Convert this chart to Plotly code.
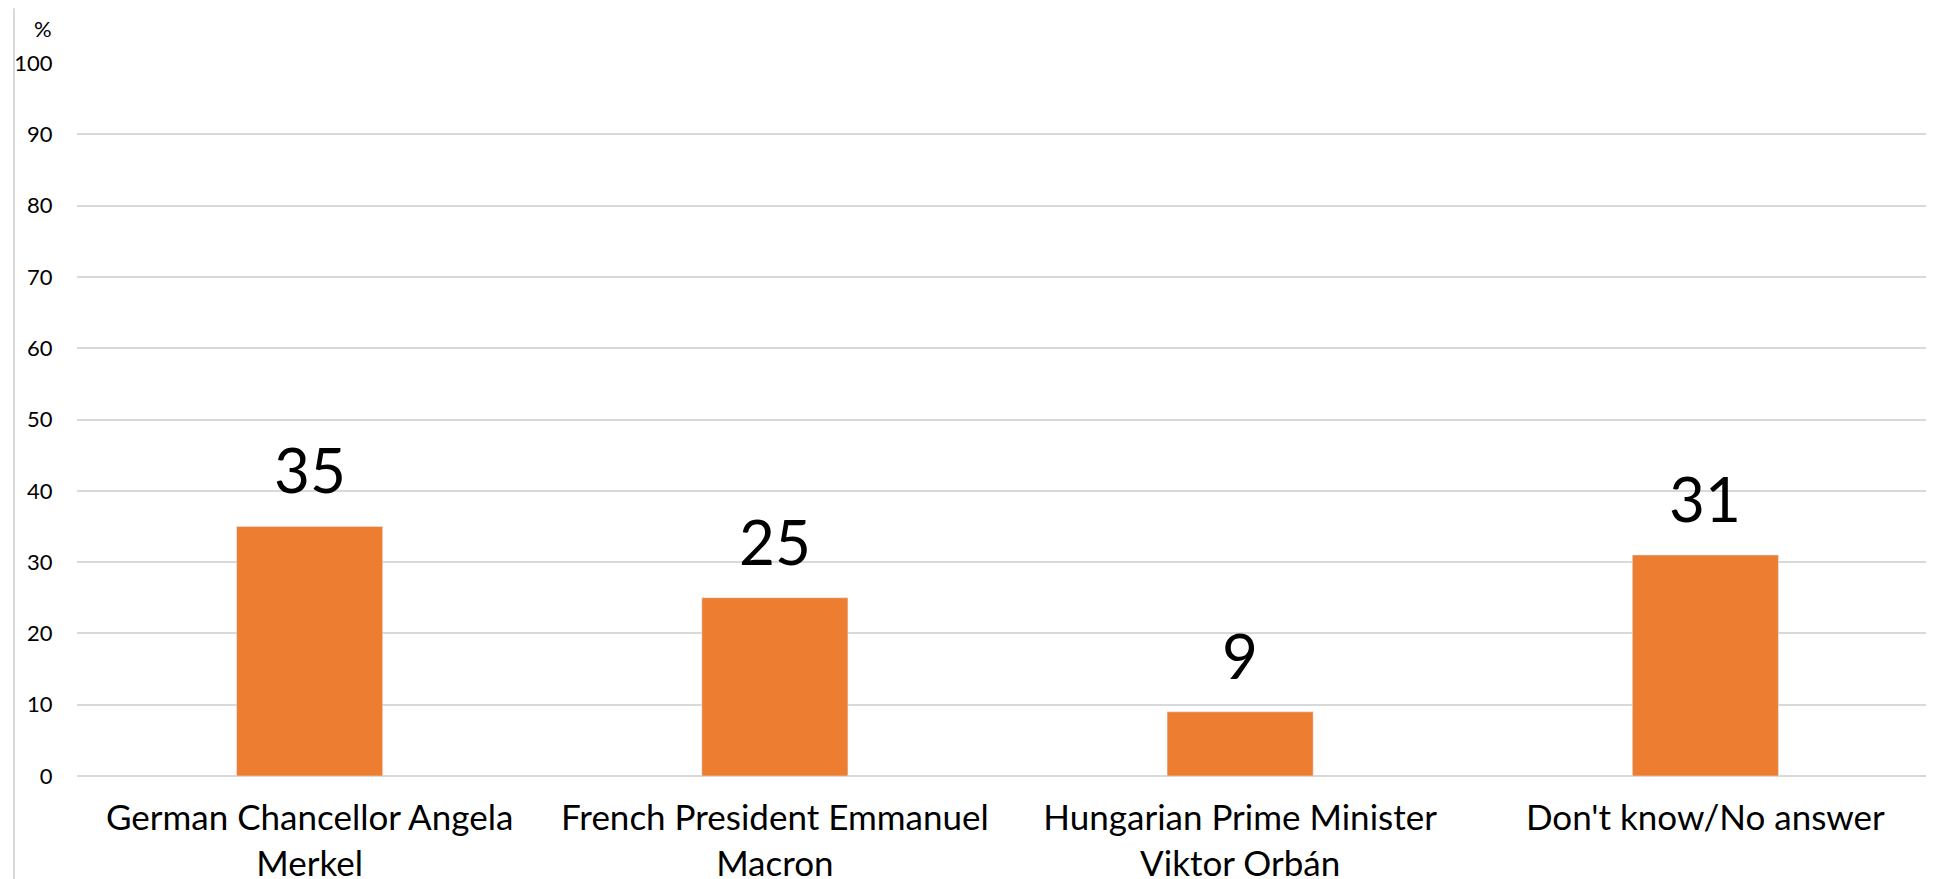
import plotly.graph_objects as go

categories = ["German Chancellor Angela<br>Merkel",
              "French President Emmanuel<br>Macron",
              "Hungarian Prime Minister<br>Viktor Orbán",
              "Don't know/No answer"]
values = [35, 25, 9, 31]
y_ticks = [0, 10, 20, 30, 40, 50, 60, 70, 80, 90, 100]

W, H = 1934, 879
ML, MR, MT, MB = 69, 4, 55, 109
PW, PH = W - ML - MR, H - MT - MB
font_family = "Lato, 'Open Sans', sans-serif"

fig = go.Figure()
fig.add_trace(go.Bar(x=categories, y=values, marker_color="#ed7d31",
                     width=0.314, hoverinfo="skip"))

# value labels above the bars
for c, v in zip(categories, values):
    fig.add_annotation(x=c, y=v, text=str(v), showarrow=False,
                       yanchor="bottom", yshift=18,
                       font=dict(size=62, color="#000000", family=font_family))

fig.add_annotation(xref="paper", yref="paper", x=(35 - ML) / PW,
                   y=1 + (MT - 20) / PH, text="%", showarrow=False,
                   xanchor="center", yanchor="middle",
                   font=dict(size=22, color="#000000", family=font_family))

# chart border on the left edge
fig.add_shape(type="line", xref="paper", yref="paper",
              x0=(6 - ML) / PW, x1=(6 - ML) / PW,
              y0=-MB / PH, y1=1 + MT / PH,
              line=dict(color="#d9d9d9", width=2))

fig.update_layout(
    width=W, height=H,
    margin=dict(l=ML, r=MR, t=MT, b=MB),
    plot_bgcolor="white", paper_bgcolor="white",
    showlegend=False,
    font=dict(family=font_family, color="#000000"),
    xaxis=dict(range=[-0.5, 3.5], showgrid=False, showline=False,
               ticks="outside", ticklen=11, tickcolor="rgba(0,0,0,0)",
               tickfont=dict(size=35, family=font_family), fixedrange=True),
    yaxis=dict(range=[0, 100], tickvals=y_ticks, showgrid=True,
               gridcolor="#d9d9d9", gridwidth=2, zeroline=True,
               zerolinecolor="#d9d9d9", zerolinewidth=2, showline=False,
               ticks="outside", ticklen=19, tickcolor="rgba(0,0,0,0)",
               tickfont=dict(size=22, family=font_family), fixedrange=True),
)

fig.write_html("out.html")
